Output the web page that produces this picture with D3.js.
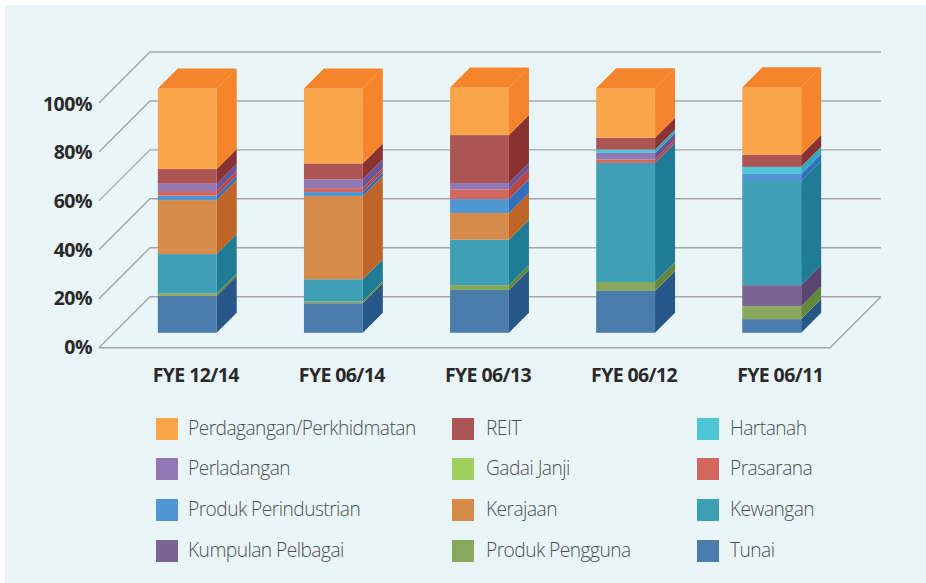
<!DOCTYPE html>
<html><head><meta charset="utf-8">
<script src="https://cdn.jsdelivr.net/npm/d3@7"></script>
<style>html,body{margin:0;padding:0;background:#fff}svg{display:block}</style>
</head><body><div id="chart"></div>
<script>
const categories = ["FYE 12/14","FYE 06/14","FYE 06/13","FYE 06/12","FYE 06/11"];
const tickLabels = ["0%","20%","40%","60%","80%","100%"];
const tickValues = [0,20,40,60,80,100];
const seriesNames = ["Tunai","Produk Pengguna","Kumpulan Pelbagai","Kewangan","Kerajaan","Produk Perindustrian","Prasarana","Gadai Janji","Perladangan","Hartanah","REIT","Perdagangan/Perkhidmatan"];
const frontColors = ["#4a7cab","#8aa85c","#7a6592","#3da0b4","#d68b4a","#5096d3","#d2675f","#a2d060","#9279b5","#4fc6d8","#ad5454","#fba54a"];
const sideColors  = ["#285688","#64883a","#5a4470","#1f7c94","#c06428","#2f72bb","#b9473f","#7fae3c","#6b5599","#35a8c4","#8a3232","#f6842a"];
const legendOrder = ["Perdagangan/Perkhidmatan","REIT","Hartanah","Perladangan","Gadai Janji","Prasarana","Produk Perindustrian","Kerajaan","Kewangan","Kumpulan Pelbagai","Produk Pengguna","Tunai"];
const tunai      = [15.1,12.1,17.5,17.1,5.6];
const pengguna   = [1.1,0.8,2.0,3.7,5.3];
const kumpulan   = [0,0,0,0,8.6];
const kewangan   = [16.0,9.0,18.6,48.7,42.6];
const kerajaan   = [22.1,34.1,10.9,0,0];
const perindust  = [1.8,1.6,5.7,0,2.9];
const prasarana  = [1.9,1.6,4.0,1.4,0];
const gadai      = [0,0,0,0,0];
const perladangan= [3.0,3.6,2.6,2.7,0];
const hartanah   = [0,0,0,1.4,2.9];
const reit       = [6.0,6.5,19.6,4.8,4.9];
const perdagangan= [33.0,30.7,19.5,20.3,27.7];
const seriesValues = [tunai,pengguna,kumpulan,kewangan,kerajaan,perindust,prasarana,gadai,perladangan,hartanah,reit,perdagangan];

const W=926,H=583;
const svg=d3.select("#chart").append("svg").attr("width",W).attr("height",H);
svg.append("rect").attr("x",5).attr("y",5).attr("width",W-5).attr("height",H-5).attr("fill","#e9f5f8");

const yAxis=d3.scaleLinear().domain([0,100]).range([347.7,103]);
const yLabel=d3.scaleLinear().domain([0,100]).range([354,110.5]);
const y=d3.scaleLinear().domain([0,100]).range([332.8,88.4]);
const x=d3.scaleBand().domain(categories).range([114,845]).paddingInner(0.597).paddingOuter(0.3);
const floorL=99, floorR=830, wallDepth=51, barDepth=20;
const gridColor="#a4a6a8";

const grid=svg.append("g").attr("fill","none").attr("stroke",gridColor).attr("stroke-width",1.4);
tickValues.forEach(t=>{
  const yy=yAxis(t);
  grid.append("path").attr("d",`M${floorL},${yy}L${floorL+wallDepth},${yy-wallDepth}L${floorR+wallDepth},${yy-wallDepth}`);
});
grid.append("path").attr("d",`M${floorL},${yAxis(0)}L${floorR},${yAxis(0)}L${floorR+wallDepth},${yAxis(0)-wallDepth}`);

const tickFont="'Open Sans',sans-serif";
svg.append("g").selectAll("text").data(tickValues).join("text")
  .attr("x",92).attr("y",d=>yLabel(d)).attr("text-anchor","end")
  .attr("font-family",tickFont).attr("font-weight",700).attr("font-size",19.5).attr("letter-spacing",-0.5).attr("fill","#2b2a2b")
  .text((d,i)=>tickLabels[i]);
svg.append("g").selectAll("text").data(categories).join("text")
  .attr("x",d=>x(d)+x.bandwidth()/2+8.5).attr("y",382).attr("text-anchor","middle")
  .attr("font-family",tickFont).attr("font-weight",700).attr("font-size",19.5).attr("letter-spacing",-0.6).attr("fill","#2b2a2b")
  .text(d=>d);

categories.forEach((c,ci)=>{
  const g=svg.append("g");
  const x0=x(c), x1=x0+x.bandwidth();
  let acc=0, topIdx=0;
  const segs=[];
  seriesValues.forEach((vals,si)=>{
    const v=vals[ci]; if(!v) return;
    segs.push({si,a:acc,b:acc+v}); acc+=v; topIdx=si;
  });
  segs.forEach(s=>{
    const yb=y(s.a), yt=y(s.b);
    g.append("path").attr("fill",sideColors[s.si])
      .attr("d",`M${x1},${yb}L${x1+barDepth},${yb-barDepth}L${x1+barDepth},${yt-barDepth}L${x1},${yt}Z`);
    g.append("rect").attr("x",x0).attr("y",yt).attr("width",x.bandwidth()).attr("height",yb-yt).attr("fill",frontColors[s.si]);
  });
  const yt=y(acc);
  g.append("path").attr("fill",sideColors[topIdx])
    .attr("d",`M${x0},${yt}L${x0+barDepth},${yt-barDepth}L${x1+barDepth},${yt-barDepth}L${x1},${yt}Z`);
});

const swatchX=[156,452,697], textX=[188,486,730], legendY=[418,458,499,540];
const legend=svg.append("g");
legendOrder.forEach((name,i)=>{
  const col=i%3,row=Math.floor(i/3);
  const si=seriesNames.indexOf(name);
  legend.append("rect").attr("x",swatchX[col]).attr("y",legendY[row]).attr("width",22).attr("height",22).attr("fill",frontColors[si]);
  legend.append("text").attr("x",textX[col]).attr("y",legendY[row]+17)
    .attr("font-family",tickFont).attr("font-weight",300).attr("font-size",19.2).attr("letter-spacing",-0.55).attr("fill","#4f5053").text(name);
});
</script></body></html>
